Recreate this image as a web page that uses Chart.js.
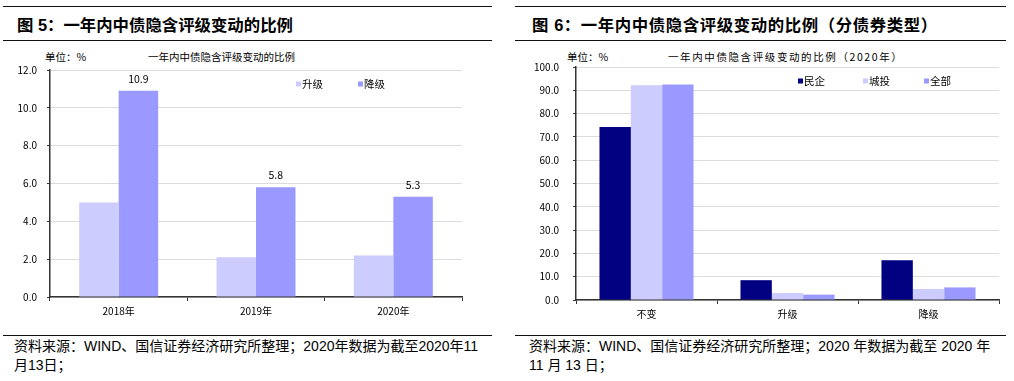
<!DOCTYPE html>
<html>
<head>
<meta charset="utf-8">
<script src="https://cdn.jsdelivr.net/npm/chart.js@4"></script>
<style>
  body{margin:0;width:1014px;height:381px;position:relative;background:#fff;overflow:hidden;
    font-family:"Liberation Sans","Noto Sans CJK SC",sans-serif;color:#000}
  .rule{position:absolute;height:1px;background:#111}
  .t{position:absolute;white-space:nowrap}
  .title{font-size:16.4px;font-weight:bold;line-height:20px}
  .small{font-size:10.5px;font-family:"Noto Sans CJK SC",sans-serif;line-height:12px}
  .src{font-size:14px;line-height:19px}
  .box{position:absolute}
</style>
</head>
<body>

<!-- left panel -->
<div class="rule" style="left:3px;top:6px;width:489px"></div>
<div class="t title" style="left:17px;top:15px">图 5：一年内中债隐含评级变动的比例</div>
<div class="rule" style="left:3px;top:40px;width:489px"></div>
<div class="t small" style="left:45px;top:51px">单位：%</div>
<div class="t small" style="left:148px;top:51px">一年内中债隐含评级变动的比例</div>
<div class="box" style="left:0;top:54px"><canvas id="chart1" width="475" height="271"></canvas></div>
<div class="rule" style="left:3px;top:335px;width:489px"></div>
<div class="t src" style="left:14px;top:337px">资料来源：WIND、国信证券经济研究所整理；2020年数据为截至2020年11<br>月13日；</div>

<!-- right panel -->
<div class="rule" style="left:515px;top:6px;width:491px"></div>
<div class="t title" style="left:532px;top:15px;letter-spacing:0.6px">图 6：一年内中债隐含评级变动的比例（分债券类型）</div>
<div class="rule" style="left:515px;top:40px;width:491px"></div>
<div class="t small" style="left:567px;top:51px">单位：%</div>
<div class="t small" style="left:668px;top:51px;letter-spacing:1.6px">一年内中债隐含评级变动的比例（2020年）</div>
<div class="box" style="left:507px;top:47px"><canvas id="chart2" width="507" height="283"></canvas></div>
<div class="rule" style="left:515px;top:335px;width:491px"></div>
<div class="t src" style="left:529px;top:337px">资料来源：WIND、国信证券经济研究所整理；2020 年数据为截至 2020 年<br>11 月 13 日；</div>

<script>
  // 图5 数据
  var years = ['2018年', '2019年', '2020年']
  var shengji = [5.0, 2.1, 2.2]
  var jiangji = [10.9, 5.8, 5.3]

  // 图6 数据
  var tipos = ['不变', '升级', '降级']
  var minqi = [74.3, 8.5, 17.1]
  var chengtou = [92.2, 3.0, 4.7]
  var quanbu = [92.5, 2.3, 5.4]

  var fonte = '"Noto Sans CJK SC", sans-serif'

  // legenda dentro do grafico
  const legendaBox = {
    id: 'legendaBox',
    afterDraw(chart, args, opts) {
      const ctx = chart.ctx
      ctx.save()
      ctx.font = '10.5px ' + fonte
      ctx.textBaseline = 'middle'
      chart.data.datasets.forEach((ds, i) => {
        const x = opts.xs[i]
        ctx.fillStyle = ds.backgroundColor
        ctx.fillRect(x, opts.y - 2.5, 5, 5)
        ctx.fillStyle = '#000'
        ctx.fillText(ds.label, x + 6, opts.y)
      })
      ctx.restore()
    }
  }

  // rotulos de valor (so uma serie)
  const rotulos = {
    id: 'rotulos',
    afterDatasetsDraw(chart, args, opts) {
      if (opts.dataset == null) return
      const ctx = chart.ctx
      const meta = chart.getDatasetMeta(opts.dataset)
      const vals = chart.data.datasets[opts.dataset].data
      ctx.save()
      ctx.font = '10.5px ' + fonte
      ctx.fillStyle = '#000'
      ctx.textAlign = 'center'
      ctx.textBaseline = 'middle'
      meta.data.forEach((bar, i) => {
        ctx.fillText(vals[i].toFixed(1), bar.x, bar.y - 12)
      })
      ctx.restore()
    }
  }

  function escalas(maxY, passo, larguraY, alturaX, padY) {
    return {
      x: {
        grid: { display: true, offset: true, drawOnChartArea: false, drawTicks: true, tickLength: 4, tickColor: '#333' },
        border: { display: true, color: '#333', width: 1.5 },
        ticks: { color: '#000', font: { family: fonte, size: 10 }, padding: 4 },
        afterFit: function (s) { s.height = alturaX }
      },
      y: {
        min: 0,
        max: maxY,
        ticks: { stepSize: passo, color: '#000', font: { family: fonte, size: 10 }, padding: padY,
          callback: function (v) { return v.toFixed(1) } },
        grid: { color: '#b8b8b8', lineWidth: 1, drawTicks: true, tickLength: 3, tickColor: '#333' },
        border: { display: true, color: '#333', width: 1.5, dash: [1, 1] },
        afterFit: function (s) { s.width = larguraY }
      }
    }
  }

  // grafico 1
  const config1 = {
    type: 'bar',
    data: {
      labels: years,
      datasets: [
        { label: '升级', data: shengji, backgroundColor: '#ccccff', borderWidth: 0, barPercentage: 1, categoryPercentage: 0.575 },
        { label: '降级', data: jiangji, backgroundColor: '#9999ff', borderWidth: 0, barPercentage: 1, categoryPercentage: 0.575 }
      ]
    },
    options: {
      responsive: false,
      animation: false,
      layout: { padding: { top: 0, right: 13, left: 0, bottom: 0 } },
      plugins: {
        legend: { display: false },
        tooltip: { enabled: false },
        legendaBox: { xs: [296, 358], y: 30 },
        rotulos: { dataset: 1 }
      },
      scales: escalas(12, 2, 50, 28, 10)
    },
    plugins: [legendaBox, rotulos]
  }
  new Chart(document.getElementById('chart1'), config1)

  // grafico 2
  const config2 = {
    type: 'bar',
    data: {
      labels: tipos,
      datasets: [
        { label: '民企', data: minqi, backgroundColor: '#000080', borderWidth: 0, barPercentage: 1, categoryPercentage: 0.667 },
        { label: '城投', data: chengtou, backgroundColor: '#ccccff', borderWidth: 0, barPercentage: 1, categoryPercentage: 0.667 },
        { label: '全部', data: quanbu, backgroundColor: '#9999ff', borderWidth: 0, barPercentage: 1, categoryPercentage: 0.667 }
      ]
    },
    options: {
      responsive: false,
      animation: false,
      layout: { padding: { top: 0, right: 15, left: 0, bottom: 0 } },
      plugins: {
        legend: { display: false },
        tooltip: { enabled: false },
        legendaBox: { xs: [291, 356, 417], y: 34 }
      },
      scales: escalas(100, 10, 69, 30, 14)
    },
    plugins: [legendaBox, rotulos]
  }
  new Chart(document.getElementById('chart2'), config2)
</script>
</body>
</html>
